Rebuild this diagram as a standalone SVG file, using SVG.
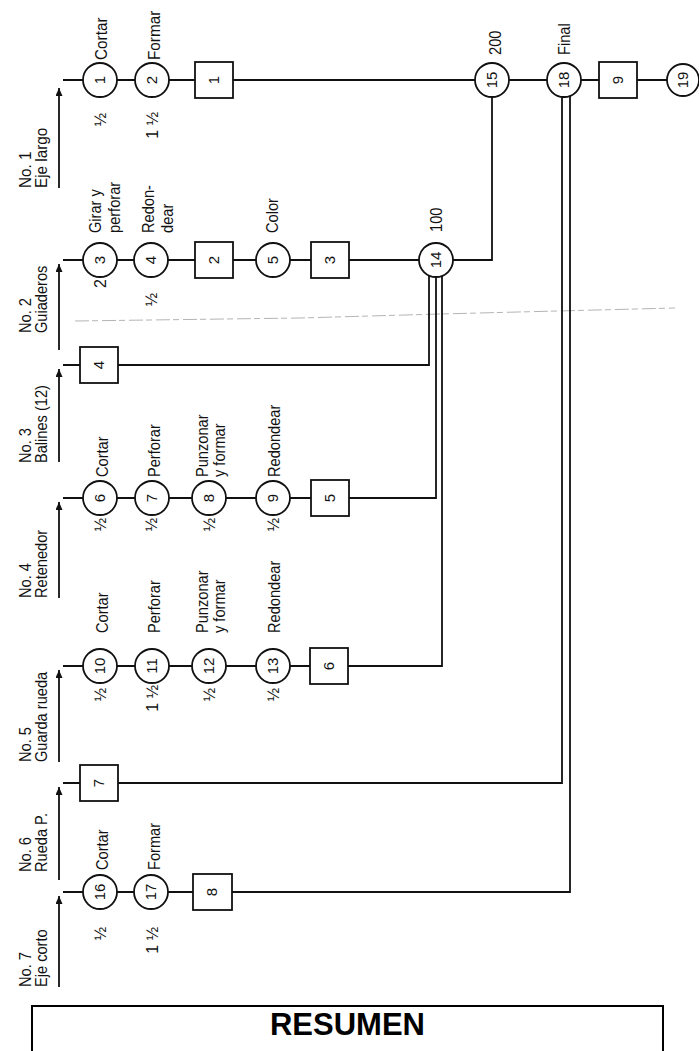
<svg xmlns="http://www.w3.org/2000/svg" width="699" height="1051" viewBox="0 0 699 1051">
<style>
  .ln{fill:none;stroke:#111;stroke-width:1.8}
  .nd{fill:#fff;stroke:#111;stroke-width:1.8}
  .t{font-family:"Liberation Sans",Arial,sans-serif;font-size:17px;fill:#111}
  .f{font-family:"Liberation Sans",Arial,sans-serif;font-size:16px;fill:#111;text-anchor:end}
  .n{font-family:"Liberation Sans",Arial,sans-serif;font-size:15px;fill:#111;text-anchor:middle}
  .scan{fill:none;stroke:#777;stroke-width:1;stroke-dasharray:14 3 6 4;opacity:.55}
</style>
<defs>
  <marker id="ah" markerWidth="8" markerHeight="7" refX="8" refY="3.5" orient="auto" markerUnits="userSpaceOnUse">
    <path d="M0,0 L8,3.5 L0,7 z" fill="#111"/>
  </marker>
</defs>
<rect width="699" height="1051" fill="#fff"/>
<path class="scan" d="M75,321 L300,318 L440,314 L675,308"/>

<g id="connectors">
  <path class="ln" d="M63,80 H683"/>
  <path class="ln" d="M63,260 H492 V97"/>
  <path class="ln" d="M63,365 H429 V275"/>
  <path class="ln" d="M63,498 H436 V277"/>
  <path class="ln" d="M63,666 H442 V276"/>
  <path class="ln" d="M63,783 H562 V97"/>
  <path class="ln" d="M63,892 H570 V96"/>
  <path class="ln" marker-end="url(#ah)" d="M59,188 V88"/>
  <path class="ln" marker-end="url(#ah)" d="M59,350 V264"/>
  <path class="ln" marker-end="url(#ah)" d="M59,462 V369"/>
  <path class="ln" marker-end="url(#ah)" d="M59,598 V502"/>
  <path class="ln" marker-end="url(#ah)" d="M59,762 V670"/>
  <path class="ln" marker-end="url(#ah)" d="M59,880 V787"/>
  <path class="ln" marker-end="url(#ah)" d="M59,987 V896"/>
</g>

<g id="row-labels">
  <text class="t" transform="translate(31,188) rotate(-90) scale(0.9,1)">No. 1</text>
  <text class="t" transform="translate(47,188) rotate(-90) scale(0.9,1)">Eje largo</text>
  <text class="t" transform="translate(31,333) rotate(-90) scale(0.86,1)">No. 2</text>
  <text class="t" transform="translate(47,333) rotate(-90) scale(0.86,1)">Guiaderos</text>
  <text class="t" transform="translate(31,463) rotate(-90) scale(0.86,1)">No. 3</text>
  <text class="t" transform="translate(47,463) rotate(-90) scale(0.86,1)">Balines (12)</text>
  <text class="t" transform="translate(31,598) rotate(-90) scale(0.86,1)">No. 4</text>
  <text class="t" transform="translate(47,598) rotate(-90) scale(0.86,1)">Retenedor</text>
  <text class="t" transform="translate(31,762) rotate(-90) scale(0.86,1)">No. 5</text>
  <text class="t" transform="translate(47,762) rotate(-90) scale(0.86,1)">Guarda rueda</text>
  <text class="t" transform="translate(31,872) rotate(-90) scale(0.86,1)">No. 6</text>
  <text class="t" transform="translate(47,872) rotate(-90) scale(0.86,1)">Rueda P.</text>
  <text class="t" transform="translate(31,987) rotate(-90) scale(0.86,1)">No. 7</text>
  <text class="t" transform="translate(47,987) rotate(-90) scale(0.86,1)">Eje corto</text>
</g>

<!-- Row 1 -->
<g id="op1"><circle class="nd" cx="100" cy="80" r="17"/><text class="n" transform="translate(105,80) rotate(-90)">1</text>
  <text class="t" transform="translate(107,60) rotate(-90) scale(0.9,1)">Cortar</text>
  <text class="f" transform="translate(106,113) rotate(-90)">½</text></g>
<g id="op2"><circle class="nd" cx="152" cy="80" r="17"/><text class="n" transform="translate(157,80) rotate(-90)">2</text>
  <text class="t" transform="translate(160,60) rotate(-90) scale(0.9,1)">Formar</text>
  <text class="f" transform="translate(158,112) rotate(-90)">1 ½</text></g>
<g id="insp1"><rect class="nd" x="195" y="62" width="38" height="36"/><text class="n" transform="translate(219,80) rotate(-90)">1</text></g>
<g id="op15"><circle class="nd" cx="492" cy="80" r="17"/><text class="n" transform="translate(497,80) rotate(-90)">15</text>
  <text class="t" transform="translate(501,55) rotate(-90) scale(0.86,1)">200</text></g>
<g id="op18"><circle class="nd" cx="564" cy="80" r="17"/><text class="n" transform="translate(569,80) rotate(-90)">18</text>
  <text class="t" transform="translate(570,55) rotate(-90) scale(0.86,1)">Final</text></g>
<g id="insp9"><rect class="nd" x="599" y="62" width="38" height="36"/><text class="n" transform="translate(623,80) rotate(-90)">9</text></g>
<g id="op19"><circle class="nd" cx="683" cy="80" r="16"/><text class="n" transform="translate(688,80) rotate(-90)">19</text></g>

<!-- Row 2 -->
<g id="op3"><circle class="nd" cx="100" cy="260" r="17"/><text class="n" transform="translate(105,260) rotate(-90)">3</text>
  <text class="t" transform="translate(101,233) rotate(-90) scale(0.86,1)">Girar y</text>
  <text class="t" transform="translate(120,233) rotate(-90) scale(0.86,1)">perforar</text>
  <text class="f" transform="translate(106,279) rotate(-90)">2</text></g>
<g id="op4"><circle class="nd" cx="151" cy="260" r="17"/><text class="n" transform="translate(156,260) rotate(-90)">4</text>
  <text class="t" transform="translate(154,233) rotate(-90) scale(0.86,1)">Redon-</text>
  <text class="t" transform="translate(173,233) rotate(-90) scale(0.86,1)">dear</text>
  <text class="f" transform="translate(157,293) rotate(-90)">½</text></g>
<g id="insp2"><rect class="nd" x="195" y="242" width="38" height="36"/><text class="n" transform="translate(219,260) rotate(-90)">2</text></g>
<g id="op5"><circle class="nd" cx="273" cy="260" r="17"/><text class="n" transform="translate(278,260) rotate(-90)">5</text>
  <text class="t" transform="translate(278,233) rotate(-90) scale(0.86,1)">Color</text></g>
<g id="insp3"><rect class="nd" x="311" y="242" width="38" height="36"/><text class="n" transform="translate(335,260) rotate(-90)">3</text></g>
<g id="op14"><circle class="nd" cx="436" cy="260" r="17"/><text class="n" transform="translate(441,260) rotate(-90)">14</text>
  <text class="t" transform="translate(442,232) rotate(-90) scale(0.86,1)">100</text></g>

<!-- Row 3 -->
<g id="insp4"><rect class="nd" x="80" y="347" width="38" height="36"/><text class="n" transform="translate(104,365) rotate(-90)">4</text></g>

<!-- Row 4 -->
<g id="op6"><circle class="nd" cx="100" cy="498" r="17"/><text class="n" transform="translate(105,498) rotate(-90)">6</text>
  <text class="t" transform="translate(108,477) rotate(-90) scale(0.86,1)">Cortar</text>
  <text class="f" transform="translate(106,518) rotate(-90)">½</text></g>
<g id="op7"><circle class="nd" cx="152" cy="498" r="17"/><text class="n" transform="translate(157,498) rotate(-90)">7</text>
  <text class="t" transform="translate(160,477) rotate(-90) scale(0.86,1)">Perforar</text>
  <text class="f" transform="translate(157,518) rotate(-90)">½</text></g>
<g id="op8"><circle class="nd" cx="209" cy="498" r="17"/><text class="n" transform="translate(214,498) rotate(-90)">8</text>
  <text class="t" transform="translate(208,477) rotate(-90) scale(0.86,1)">Punzonar</text>
  <text class="t" transform="translate(225,477) rotate(-90) scale(0.86,1)">y formar</text>
  <text class="f" transform="translate(215,518) rotate(-90)">½</text></g>
<g id="op9"><circle class="nd" cx="273" cy="498" r="17"/><text class="n" transform="translate(278,498) rotate(-90)">9</text>
  <text class="t" transform="translate(280,477) rotate(-90) scale(0.86,1)">Redondear</text>
  <text class="f" transform="translate(279,518) rotate(-90)">½</text></g>
<g id="insp5"><rect class="nd" x="311" y="480" width="38" height="36"/><text class="n" transform="translate(335,498) rotate(-90)">5</text></g>

<!-- Row 5 -->
<g id="op10"><circle class="nd" cx="100" cy="666" r="17"/><text class="n" transform="translate(105,666) rotate(-90)">10</text>
  <text class="t" transform="translate(108,633) rotate(-90) scale(0.86,1)">Cortar</text>
  <text class="f" transform="translate(106,688) rotate(-90)">½</text></g>
<g id="op11"><circle class="nd" cx="152" cy="666" r="17"/><text class="n" transform="translate(157,666) rotate(-90)">11</text>
  <text class="t" transform="translate(160,633) rotate(-90) scale(0.86,1)">Perforar</text>
  <text class="f" transform="translate(158,685) rotate(-90)">1 ½</text></g>
<g id="op12"><circle class="nd" cx="209" cy="666" r="17"/><text class="n" transform="translate(214,666) rotate(-90)">12</text>
  <text class="t" transform="translate(208,633) rotate(-90) scale(0.86,1)">Punzonar</text>
  <text class="t" transform="translate(225,633) rotate(-90) scale(0.86,1)">y formar</text>
  <text class="f" transform="translate(215,688) rotate(-90)">½</text></g>
<g id="op13"><circle class="nd" cx="273" cy="666" r="17"/><text class="n" transform="translate(278,666) rotate(-90)">13</text>
  <text class="t" transform="translate(280,633) rotate(-90) scale(0.86,1)">Redondear</text>
  <text class="f" transform="translate(279,688) rotate(-90)">½</text></g>
<g id="insp6"><rect class="nd" x="310" y="648" width="38" height="36"/><text class="n" transform="translate(334,666) rotate(-90)">6</text></g>

<!-- Row 6 -->
<g id="insp7"><rect class="nd" x="80" y="765" width="38" height="36"/><text class="n" transform="translate(104,783) rotate(-90)">7</text></g>

<!-- Row 7 -->
<g id="op16"><circle class="nd" cx="100" cy="892" r="17"/><text class="n" transform="translate(105,892) rotate(-90)">16</text>
  <text class="t" transform="translate(108,870) rotate(-90) scale(0.86,1)">Cortar</text>
  <text class="f" transform="translate(106,927) rotate(-90)">½</text></g>
<g id="op17"><circle class="nd" cx="151" cy="892" r="17"/><text class="n" transform="translate(156,892) rotate(-90)">17</text>
  <text class="t" transform="translate(160,870) rotate(-90) scale(0.86,1)">Formar</text>
  <text class="f" transform="translate(158,927) rotate(-90)">1 ½</text></g>
<g id="insp8"><rect class="nd" x="193" y="874" width="39" height="36"/><text class="n" transform="translate(217,892) rotate(-90)">8</text></g>

<g id="resumen">
  <rect x="32" y="1006" width="631" height="70" fill="none" stroke="#000" stroke-width="2"/>
  <text x="347.5" y="1035" text-anchor="middle" font-family="Liberation Sans, Arial, sans-serif" font-size="31" font-weight="bold" fill="#000">RESUMEN</text>
</g>
</svg>
